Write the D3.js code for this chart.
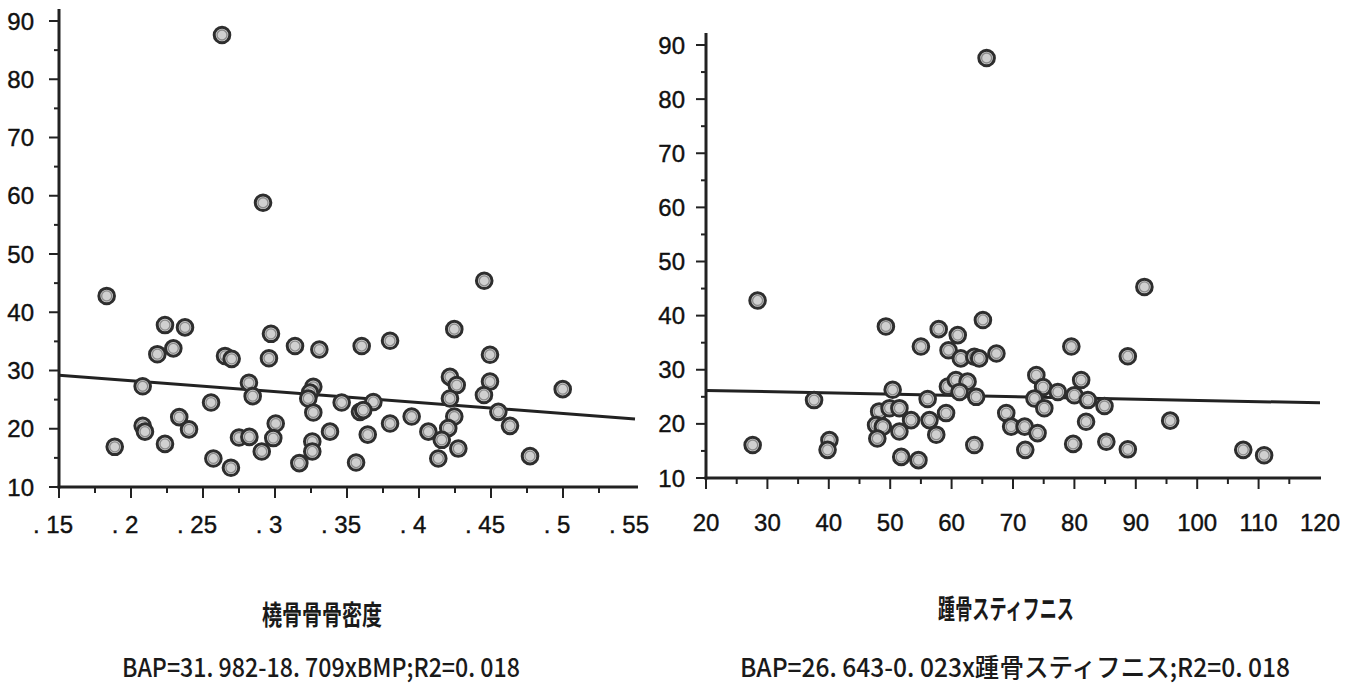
<!DOCTYPE html>
<html>
<head>
<meta charset="utf-8">
<script src="https://cdn.jsdelivr.net/npm/d3@7/dist/d3.min.js"></script>
<style>
  html, body { margin: 0; padding: 0; background: #fff; }
  svg { display: block; }
  .tick-label { font-family: "Liberation Sans Narrow", "Liberation Sans", Arial, sans-serif; font-size: 24px; fill: #111; stroke: #111; stroke-width: 0.4px; }
  .cap { font-family: "Noto Sans CJK JP", "Noto Sans", sans-serif; font-size: 27px; fill: #1a1a1a; font-weight: 700; }
</style>
</head>
<body>
<svg id="chart" width="1347" height="691"></svg>
<script>
// Radius bone density (x) vs BAP (y)
const radiusBMD = [
  .2632, .2917, .1831, .2236, .2375, .2183, .2294, .2081, .2081, .2097,
  .1887, .2236, .2335, .2403, .2556, .2572, .2694, .2653, .2699, .2972,
  .2958, .2819, .2845, .2750, .2822, .2908, .3005, .2988, .3139, .3308,
  .3266, .3243, .3231, .3266, .3259, .3259, .3169, .3382, .3463, .3563,
  .3602, .3799, .3683, .3590, .3613, .3644, .3799, .3949, .4065, .4245,
  .4203, .4158, .4134, .4273, .4245, .4215, .4262, .4215, .4453, .4493,
  .4493, .4451, .4551, .4632, .4771, .4998
];
const radiusBAP = [
  87.6, 58.8, 42.8, 37.8, 37.4, 32.8, 33.8, 27.3, 20.5, 19.5,
  16.9, 17.4, 22.0, 19.9, 24.5, 14.9, 13.3, 32.5, 32.0, 36.3,
  32.1, 27.9, 25.6, 18.5, 18.6, 16.1, 20.9, 18.4, 34.2, 33.6,
  27.2, 26.2, 25.2, 22.8, 17.8, 16.1, 14.1, 19.5, 24.5, 14.2,
  34.2, 35.1, 24.6, 22.9, 23.2, 19.0, 20.9, 22.1, 19.5, 22.1,
  20.1, 18.1, 14.9, 16.6, 37.1, 28.9, 27.5, 25.2, 45.4, 32.7,
  28.1, 25.8, 22.9, 20.5, 15.3, 26.8
];

// Calcaneus stiffness (x) vs BAP (y)
const heelStiffness = [
  65.7, 28.4, 27.6, 37.6, 40.1, 39.8, 49.3, 55.0, 50.4, 48.2,
  49.9, 51.5, 53.4, 47.7, 48.8, 51.5, 47.9, 51.8, 54.6, 56.1,
  56.4, 57.5, 59.1, 57.9, 61.0, 59.5, 61.5, 63.7, 64.5, 65.1,
  67.3, 59.4, 60.7, 62.6, 61.3, 64.0, 63.7, 79.5, 73.8, 74.9,
  77.3, 73.5, 75.1, 81.1, 80.0, 82.2, 68.9, 69.7, 71.9, 74.0,
  72.0, 79.8, 81.9, 91.4, 88.7, 84.9, 85.2, 88.7, 95.6, 107.5,
  110.9
];
const heelBAP = [
  87.6, 42.8, 16.1, 24.4, 17.0, 15.2, 38.0, 34.3, 26.3, 22.3,
  22.9, 22.9, 20.7, 19.8, 19.5, 18.6, 17.3, 13.9, 13.3, 24.6,
  20.7, 18.0, 22.0, 37.5, 36.4, 33.6, 32.1, 32.4, 32.1, 39.2,
  33.0, 26.9, 28.1, 27.8, 25.9, 25.0, 16.1, 34.3, 29.0, 26.8,
  25.9, 24.7, 22.9, 28.1, 25.3, 24.4, 22.0, 19.5, 19.5, 18.3,
  15.2, 16.3, 20.4, 45.3, 32.5, 23.3, 16.7, 15.3, 20.6, 15.2,
  14.2
];

// Axis ticks and labels
const yTicks = [10, 20, 30, 40, 50, 60, 70, 80, 90];
const yMinorTicks = [15, 25, 35, 45, 55, 65, 75, 85];
const leftXTicks = [.15, .2, .25, .3, .35, .4, .45, .5, .55];
const leftXLabels = [". 15", ". 2", ". 25", ". 3", ". 35", ". 4", ". 45", ". 5", ". 55"];
const leftXMinor = [.175, .225, .275, .325, .375, .425, .475, .525];
const rightXTicks = [20, 30, 40, 50, 60, 70, 80, 90, 100, 110, 120];
const rightXLabels = ["20", "30", "40", "50", "60", "70", "80", "90", "100", "110", "120"];
const rightXMinor = [25, 35, 45, 55, 65, 75, 85, 95, 105, 115];

// Regression fits: BAP = a + b * x
const leftFit = { a: 31.982, b: -18.709 };
const rightFit = { a: 26.643, b: -0.023 };

// Captions
const leftTitle = "橈骨骨骨密度";
const leftFormula = "BAP=31. 982-18. 709xBMP;R2=0. 018";
const rightTitle = "踵骨スティフニス";
const rightFormula = "BAP=26. 643-0. 023x踵骨スティフニス;R2=0. 018";

const svg = d3.select("#chart");
const ink = "#222";

function drawPanel(p) {
  const g = svg.append("g");
  const x = d3.scaleLinear().domain(p.xDomain).range([p.left, p.right]);
  const y = d3.scaleLinear().domain([10, 90]).range([p.bottom, p.top90]);

  // y axis
  g.append("line").attr("x1", p.left).attr("x2", p.left)
    .attr("y1", p.axisTop).attr("y2", p.bottom + 1.5)
    .attr("stroke", ink).attr("stroke-width", 3);
  g.selectAll(".ymaj").data(yTicks).join("line")
    .attr("x1", p.left - 10).attr("x2", p.left)
    .attr("y1", d => y(d)).attr("y2", d => y(d))
    .attr("stroke", ink).attr("stroke-width", 2);
  g.selectAll(".ymin").data(yMinorTicks).join("line")
    .attr("x1", p.left - 5).attr("x2", p.left)
    .attr("y1", d => y(d)).attr("y2", d => y(d))
    .attr("stroke", ink).attr("stroke-width", 2);
  g.selectAll(".ylab").data(yTicks).join("text")
    .attr("class", "tick-label")
    .attr("x", p.yLabelEnd).attr("y", d => y(d))
    .attr("text-anchor", "end").attr("dominant-baseline", "central")
    .text(d => d);

  // x axis
  g.append("line").attr("x1", p.left - 1.5).attr("x2", p.axisRight)
    .attr("y1", p.bottom).attr("y2", p.bottom)
    .attr("stroke", ink).attr("stroke-width", 3);
  g.selectAll(".xmaj").data(p.xTicks.filter(d => x(d) < p.axisRight - 4)).join("line")
    .attr("x1", d => x(d)).attr("x2", d => x(d))
    .attr("y1", p.bottom).attr("y2", p.bottom + 11)
    .attr("stroke", ink).attr("stroke-width", 2);
  g.selectAll(".xmin").data(p.xMinor).join("line")
    .attr("x1", d => x(d)).attr("x2", d => x(d))
    .attr("y1", p.bottom).attr("y2", p.bottom + 6)
    .attr("stroke", ink).attr("stroke-width", 2);
  g.selectAll(".xlab").data(p.xTicks).join("text")
    .attr("class", "tick-label")
    .attr("x", d => x(d) + p.xLabelDx).attr("y", p.xLabelY)
    .attr("text-anchor", "middle").attr("dominant-baseline", "central")
    .text((d, i) => p.xLabels[i]);

  // regression line
  const [x0, x1] = p.xDomain;
  g.append("line")
    .attr("x1", x(x0)).attr("y1", y(p.fit.a + p.fit.b * x0))
    .attr("x2", x(x1)).attr("y2", y(p.fit.a + p.fit.b * x1))
    .attr("stroke", ink).attr("stroke-width", 3);

  // points
  const pts = p.xs.map((v, i) => [v, p.ys[i]]);
  const dots = g.selectAll(".pt").data(pts).join("g")
    .attr("transform", d => `translate(${x(d[0])},${y(d[1])})`);
  dots.append("circle").attr("r", 7.8)
    .attr("fill", "#d0d0d0").attr("stroke", "#2e2e2e").attr("stroke-width", 3);
  dots.append("circle").attr("r", 5)
    .attr("fill", "none").attr("stroke", "#8a8a8a").attr("stroke-width", 1.3);

  // captions
  g.append("text").attr("class", "cap")
    .attr("x", p.capX).attr("y", p.titleY)
    .attr("text-anchor", "middle").attr("dominant-baseline", "central")
    .attr("textLength", p.titleW).attr("lengthAdjust", "spacingAndGlyphs")
    .text(p.title);
  g.append("text").attr("class", "cap")
    .attr("x", p.formulaX).attr("y", p.formulaY)
    .attr("text-anchor", "middle").attr("dominant-baseline", "central")
    .attr("textLength", p.formulaW).attr("lengthAdjust", "spacingAndGlyphs")
    .style("font-weight", 500).style("font-size", "26px")
    .text(p.formula);
}

drawPanel({
  xs: radiusBMD, ys: radiusBAP, fit: leftFit,
  xDomain: [.15, .55], left: 59, right: 635, axisRight: 638,
  bottom: 487, top90: 21, axisTop: 9,
  xTicks: leftXTicks, xLabels: leftXLabels, xMinor: leftXMinor,
  xLabelY: 524, xLabelDx: -6, yLabelEnd: 34,
  title: leftTitle, capX: 322, titleY: 613, titleW: 120,
  formula: leftFormula, formulaX: 321, formulaY: 665, formulaW: 398
});

drawPanel({
  xs: heelStiffness, ys: heelBAP, fit: rightFit,
  xDomain: [20, 120], left: 706, right: 1320, axisRight: 1321,
  bottom: 478, top90: 45, axisTop: 33,
  xTicks: rightXTicks, xLabels: rightXLabels, xMinor: rightXMinor,
  xLabelY: 522, xLabelDx: 0, yLabelEnd: 685,
  title: rightTitle, capX: 1006, titleY: 607, titleW: 136,
  formula: rightFormula, formulaX: 1015, formulaY: 665, formulaW: 550
});
</script>
</body>
</html>
